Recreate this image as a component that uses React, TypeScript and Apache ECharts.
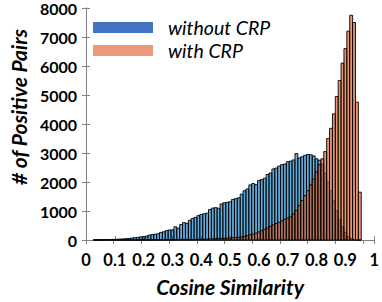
import React, { useEffect, useRef } from "react";
import * as echarts from "echarts";

// histogram bin centres (bin width 0.01)
const binCenters = [
  0.03, 0.04, 0.05, 0.06, 0.07, 0.08, 0.09,
  0.10, 0.11, 0.12, 0.13, 0.14, 0.15, 0.16, 0.17, 0.18, 0.19,
  0.20, 0.21, 0.22, 0.23, 0.24, 0.25, 0.26, 0.27, 0.28, 0.29,
  0.30, 0.31, 0.32, 0.33, 0.34, 0.35, 0.36, 0.37, 0.38, 0.39,
  0.40, 0.41, 0.42, 0.43, 0.44, 0.45, 0.46, 0.47, 0.48, 0.49,
  0.50, 0.51, 0.52, 0.53, 0.54, 0.55, 0.56, 0.57, 0.58, 0.59,
  0.60, 0.61, 0.62, 0.63, 0.64, 0.65, 0.66, 0.67, 0.68, 0.69,
  0.70, 0.71, 0.72, 0.73, 0.74, 0.75, 0.76, 0.77, 0.78, 0.79,
  0.80, 0.81, 0.82, 0.83, 0.84, 0.85, 0.86, 0.87, 0.88, 0.89,
  0.90, 0.91, 0.92, 0.93, 0.94, 0.95,
];

const withoutCRP = [
  2, 3, 5, 8, 10, 14, 18,
  22, 26, 32, 38, 45, 55, 68, 80, 92, 108,
  118, 135, 170, 188, 196, 215, 262, 285, 330, 345,
  350, 455, 405, 530, 600, 575, 680, 745, 780, 840,
  880, 905, 925, 1050, 1100, 1115, 1095, 1245, 1285, 1300,
  1320, 1400, 1425, 1455, 1580, 1700, 1760, 1900, 1950, 1910,
  2050, 2080, 2130, 2260, 2310, 2450, 2480, 2550, 2600, 2620,
  2700, 2720, 2760, 2980, 2830, 2870, 2920, 2950, 2940, 2900,
  2800, 2750, 2620, 2300, 2000, 1700, 1350, 1000, 700, 450,
  260, 120, 50, 15, 0, 0,
];

const withCRP = [
  0, 0, 0, 0, 0, 0, 0,
  0, 0, 0, 0, 0, 0, 0, 0, 0, 0,
  3, 3, 4, 4, 5, 5, 6, 7, 8, 9,
  10, 11, 12, 13, 14, 15, 17, 19, 21, 23,
  25, 28, 32, 36, 40, 45, 50, 55, 60, 65,
  70, 78, 86, 95, 108, 125, 150, 180, 210, 240,
  280, 320, 370, 420, 470, 520, 570, 610, 660, 720,
  760, 800, 900, 1020, 1190, 1360, 1530, 1700, 1900, 2100,
  2350, 2600, 2800, 3050, 3500, 3850, 4350, 4950, 5500, 6100,
  6600, 7200, 7750, 7500, 4750, 1650,
];

const seriesNames = ["without CRP", "with CRP"];
const BIN = 0.01;

const FONT = "Lato, 'Open Sans', sans-serif";
const AXIS_GRAY = "#808080";

function histSeries(name: string, values: number[], fill: string) {
  return {
    type: "custom",
    name,
    xAxisIndex: 0,
    yAxisIndex: 0,
    data: binCenters.map((c, i) => [c, values[i]]),
    encode: { x: 0, y: 1 },
    itemStyle: { color: fill },
    renderItem: (_params: any, api: any) => {
      const c = api.value(0);
      const v = api.value(1);
      const p0 = api.coord([c - BIN / 2, v]);
      const p1 = api.coord([c + BIN / 2, 0]);
      return {
        type: "rect",
        shape: {
          x: p0[0],
          y: p0[1],
          width: p1[0] - p0[0],
          height: p1[1] - p0[1],
        },
        style: { fill, stroke: "#000", lineWidth: 0.9 },
      };
    },
  };
}

export default function App() {
  const ref = useRef<HTMLDivElement>(null);
  useEffect(() => {
    document.body.style.margin = "0";
    const chart = echarts.init(ref.current!, null, { renderer: "svg" });
    const tickStyle = { inside: true, length: 4, lineStyle: { color: AXIS_GRAY } };
    const lineStyle = { show: true, lineStyle: { color: AXIS_GRAY, width: 1 } };
    chart.setOption({
      animation: false,
      backgroundColor: "#fff",
      grid: { left: 78, right: 7, top: 5, bottom: 62, containLabel: false },
      legend: {
        orient: "vertical",
        left: 93,
        top: 16,
        padding: 0,
        itemWidth: 60,
        itemHeight: 11,
        itemGap: 0,
        icon: "rect",
        data: [
          { name: seriesNames[0], itemStyle: { color: "#4472C4", borderWidth: 0 } },
          { name: seriesNames[1], itemStyle: { color: "#EC9A7B", borderWidth: 0 } },
        ],
        textStyle: {
          fontFamily: FONT,
          fontStyle: "italic",
          fontSize: 19.5,
          lineHeight: 23,
          color: "#000",
          padding: [0, 0, 0, 10],
        },
      },
      xAxis: [
        {
          type: "value",
          position: "bottom",
          min: 0,
          max: 1,
          interval: 0.1,
          axisLine: lineStyle,
          axisTick: tickStyle,
          splitLine: { show: false },
          axisLabel: {
            color: "#000",
            fontFamily: FONT,
            fontWeight: "bold",
            fontSize: 16.5,
            margin: 11,
          },
          name: "Cosine Similarity",
          nameLocation: "middle",
          nameGap: 36,
          nameTextStyle: {
            fontFamily: FONT,
            fontWeight: "bold",
            fontStyle: "italic",
            fontSize: 21,
            color: "#000",
          },
        },
        {
          type: "value",
          position: "top",
          min: 0,
          max: 1.04,
          interval: 0.1,
          axisLine: lineStyle,
          axisTick: tickStyle,
          axisLabel: { show: false },
          splitLine: { show: false },
        },
      ],
      yAxis: [
        {
          type: "value",
          position: "left",
          min: 0,
          max: 8000,
          interval: 1000,
          axisLine: lineStyle,
          axisTick: tickStyle,
          splitLine: { show: false },
          axisLabel: {
            color: "#000",
            fontFamily: FONT,
            fontWeight: "bold",
            fontSize: 16,
            margin: 9,
            formatter: (v: number) => String(v),
          },
          name: "# of Positive Pairs",
          nameLocation: "middle",
          nameRotate: 90,
          nameGap: 55,
          nameTextStyle: {
            fontFamily: FONT,
            fontWeight: "bold",
            fontStyle: "italic",
            fontSize: 21,
            color: "#000",
            padding: [0, 0, 0, 34],
          },
        },
        {
          type: "value",
          position: "right",
          min: 0,
          max: 8000,
          interval: 1000,
          axisLine: lineStyle,
          axisTick: tickStyle,
          axisLabel: { show: false },
          splitLine: { show: false },
        },
      ],
      series: [
        histSeries(seriesNames[0], withoutCRP, "rgba(0,114,189,0.6)"),
        histSeries(seriesNames[1], withCRP, "rgba(217,83,25,0.6)"),
      ],
    });
    return () => chart.dispose();
  }, []);
  return (
    <div
      ref={ref}
      style={{ position: "absolute", left: 0, top: 0, width: 382, height: 302 }}
    />
  );
}
